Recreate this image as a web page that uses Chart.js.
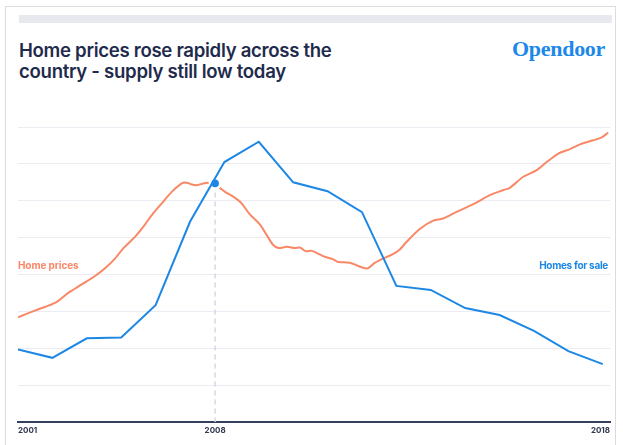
<!DOCTYPE html>
<html>
<head>
<meta charset="utf-8">
<script src="https://cdn.jsdelivr.net/npm/chart.js@4/dist/chart.umd.min.js"></script>
<style>
  html,body{margin:0;padding:0;background:#fff;}
  body{width:623px;height:445px;overflow:hidden;position:relative;font-family:Inter,"Open Sans",sans-serif;}
  #card{position:absolute;left:5px;top:6px;width:611px;height:460px;border:1px solid #dcdcdf;box-sizing:border-box;}
  #bar{position:absolute;left:19px;top:15px;width:593px;height:8px;background:#e8e9ee;}
  #title{position:absolute;left:19px;top:40px;font-size:18.6px;line-height:21px;font-weight:600;color:#1f2b4d;letter-spacing:-0.3px;}
  #logo{position:absolute;right:18px;top:36px;font-family:"Liberation Serif",serif;font-weight:700;font-size:22px;color:#1c88ea;letter-spacing:-0.3px;}
  .lbl{position:absolute;font-size:10px;line-height:10px;font-weight:700;}
  #lblPrice{left:18px;top:260px;color:#f98866;letter-spacing:-0.1px;}
  #lblSale{right:15px;top:259.5px;color:#1d87e4;letter-spacing:-0.3px;}
  canvas{position:absolute;left:0;top:0;}
</style>
</head>
<body>
<div id="card"></div>
<div id="bar"></div>
<div id="title">Home prices rose rapidly across the<br>country - supply still low today</div>
<div id="logo">Opendoor</div>
<canvas id="c" width="623" height="445"></canvas>
<div class="lbl" id="lblPrice">Home prices</div>
<div class="lbl" id="lblSale">Homes for sale</div>
<script>
// Homes for sale (yearly), in gridline units (0..8)
const saleYears = [2001,2002,2003,2004,2005,2006,2007,2008,2009,2010,2011,2012,2013,2014,2015,2016,2017,2018];
const saleValues = [1.97,1.74,2.27,2.29,3.17,5.43,7.05,7.60,6.50,6.26,5.69,3.69,3.58,3.09,2.90,2.47,1.92,1.57];

// Home prices (sub-yearly), in gridline units (0..8)
const priceDates = [2001.0,2001.49,2001.78,2002.13,2002.46,2002.85,2003.24,2003.53,2003.82,2004.06,
  2004.40,2004.64,2004.89,2005.18,2005.47,2005.76,2005.90,2006.05,2006.19,2006.39,2006.50,2006.70,
  2006.87,2007.02,2007.26,2007.50,2007.74,2008.03,2008.23,2008.42,2008.57,2008.81,2009.05,2009.20,
  2009.37,2009.54,2009.78,2009.92,2010.17,2010.31,2010.65,2010.89,2011.09,2011.18,2011.38,2011.67,
  2011.86,2012.10,2012.30,2012.69,2013.07,2013.36,2013.75,2014.24,2014.72,2015.11,2015.30,2015.69,
  2016.08,2016.37,2016.71,2017.05,2017.34,2017.72,2017.97,2018.16];
const priceValues = [2.84,3.02,3.12,3.26,3.50,3.73,3.96,4.17,4.43,4.71,
  5.02,5.29,5.61,5.93,6.24,6.47,6.49,6.44,6.42,6.47,6.49,6.46,
  6.35,6.24,6.11,5.93,5.63,5.36,5.07,4.80,4.72,4.75,4.72,4.73,
  4.63,4.64,4.54,4.48,4.41,4.34,4.32,4.23,4.17,4.17,4.32,4.46,
  4.53,4.68,4.89,5.24,5.46,5.52,5.70,5.91,6.15,6.29,6.35,6.65,
  6.83,7.05,7.28,7.40,7.53,7.64,7.72,7.85];

// Crossing marker
const crossX = 2006.73;
const crossY = 6.47;

// X axis ticks
const tickValues = [2001, 2006.73, 2018.21];
const tickLabels = ['2001', '2008', '2018'];
const xMin = 2001, xMax = 2018.21;

const BLUE = '#1d87e4';
const ORANGE = '#f98866';

new Chart(document.getElementById('c'), {
  type: 'line',
  data: {
    datasets: [
      { label:'dot', type:'scatter', data:[{x:crossX,y:crossY}], pointRadius:3.8, pointBackgroundColor:BLUE, pointBorderWidth:0, order:0 },
      { label:'Homes for sale', data: saleYears.map((y,i)=>({x:y,y:saleValues[i]})), borderColor:BLUE, borderWidth:2, pointRadius:0, tension:0, order:1 },
      { label:'halo', type:'scatter', data:[{x:crossX,y:crossY}], pointRadius:6.5, pointBackgroundColor:'#fff', pointBorderWidth:0, order:2 },
      { label:'Home prices', data: priceDates.map((d,i)=>({x:d,y:priceValues[i]})), borderColor:ORANGE, borderWidth:2, pointRadius:0, tension:0.3, order:3 },
      { label:'guide', data:[{x:crossX,y:crossY},{x:crossX,y:0}], borderColor:'#d6d8e6', borderWidth:1.5, borderDash:[5,4], pointRadius:0, order:4 }
    ]
  },
  options: {
    responsive:false,
    animation:false,
    devicePixelRatio:1,
    layout:{padding:{left:18,right:13,top:127,bottom:0}},
    plugins:{legend:{display:false},tooltip:{enabled:false}},
    scales:{
      x:{
        type:'linear', min:xMin, max:xMax,
        afterBuildTicks:(s)=>{ s.ticks = tickValues.map(v=>({value:v})); },
        afterFit:(s)=>{ s.height = 23; },
        grid:{display:false, drawTicks:false},
        border:{display:true,color:'#34405e',width:2},
        ticks:{
          autoSkip:false, maxRotation:0, align:'inner', padding:4,
          color:'#2e3650', font:{family:'Inter',size:8,weight:'700'},
          callback:(v)=>{ const i = tickValues.indexOf(v); return i>=0 ? tickLabels[i] : ''; }
        }
      },
      y:{
        min:0, max:8,
        afterFit:(s)=>{ s.width = 0; },
        ticks:{display:false, stepSize:1},
        grid:{color:'#ebebf1', lineWidth:1, drawTicks:false},
        border:{display:false}
      }
    }
  }
});
</script>
</body>
</html>
